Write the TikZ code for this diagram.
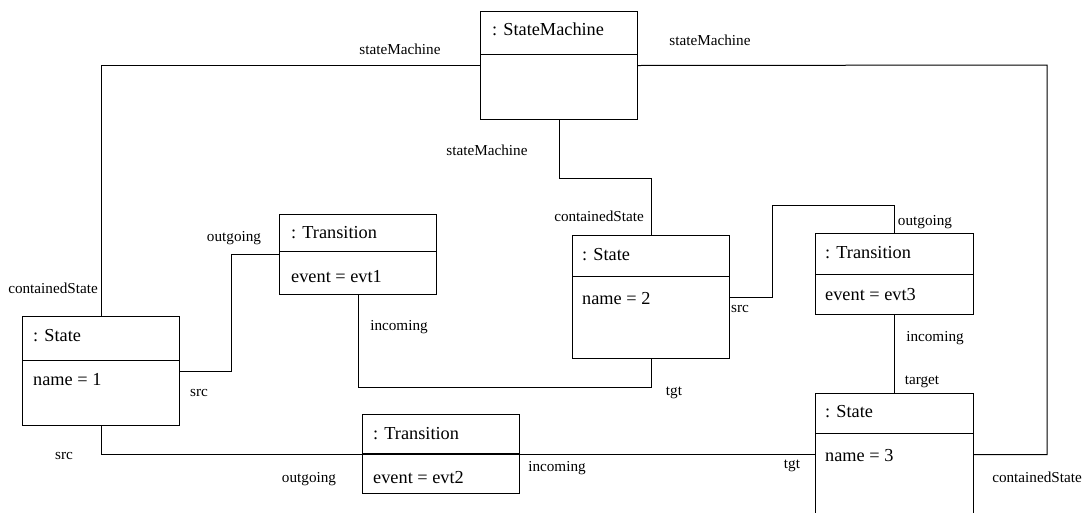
\documentclass[tikz,border=0pt]{standalone}
\usepackage{fontspec}
\setmainfont{Liberation Serif}
\begin{document}
\begin{tikzpicture}[x=1pt,y=-1pt,
  obj/.style={draw, line width=1pt, rectangle, inner sep=0pt, anchor=north west, fill=white},
  conn/.style={draw, line width=1pt},
  ttl/.style={anchor=base west, inner sep=0pt, font=\fontsize{18.3}{22}\selectfont},
  lbl/.style={anchor=base, inner sep=0pt, font=\fontsize{15.2}{18}\selectfont}]
\useasboundingbox (0,0) rectangle (1092,512);

\coordinate (r1) at (1047,65);
\coordinate (c2) at (772,205);

% boxes
\node[obj, minimum width=157pt, minimum height=108pt] (sm) at (480,11) {};
\node[obj, minimum width=157pt, minimum height=80pt] (t1) at (279,214) {};
\node[obj, minimum width=157pt, minimum height=109pt] (s1) at (22,316) {};
\node[obj, minimum width=157pt, minimum height=123pt] (s2) at (572,235) {};
\node[obj, minimum width=158pt, minimum height=81pt] (t3) at (815,233) {};
\node[obj, minimum width=158pt, minimum height=122pt] (s3) at (815,393) {};
\node[obj, minimum width=157pt, minimum height=79pt] (t2) at (362,414) {};

% connectors
\draw[conn] (s1.north) |- (sm.west);
\draw[conn] (s3.east) -| (r1) -- (sm.east);
\draw[conn] (sm.south) -- ++(0,58) -| (s2.north);
\draw[conn] (s1.east) -- ++(51,0) |- (t1.west);
\draw[conn] (t1.south) -- ++(0,92) -| (s2.south);
\draw[conn] (s2.east) -| (c2) -| (t3.north);
\draw[conn] (t3.south) -- (s3.north);
\draw[conn] (s1.south) |- (s3.west);

% dividers
\draw[conn] (sm.west |- 0,54) -- (sm.east |- 0,54);
\draw[conn] (t1.west |- 0,251) -- (t1.east |- 0,251);
\draw[conn] (s1.west |- 0,360) -- (s1.east |- 0,360);
\draw[conn] (s2.west |- 0,276) -- (s2.east |- 0,276);
\draw[conn] (t3.west |- 0,274) -- (t3.east |- 0,274);
\draw[conn] (s3.west |- 0,433) -- (s3.east |- 0,433);
\draw[conn] (t2.west |- 0,453) -- (t2.east |- 0,453);

% box texts
\node[ttl] (sm-n) at (492,35) {: StateMachine};
\node[ttl] (t1-n) at (291,238) {: Transition};
\node[ttl] (t1-a) at (291,282) {event = evt1};
\node[ttl] (s1-n) at (33,341) {: State};
\node[ttl] (s1-a) at (33,385) {name = 1};
\node[ttl] (s2-n) at (582,260) {: State};
\node[ttl] (s2-a) at (582,304) {name = 2};
\node[ttl] (t3-n) at (825,258) {: Transition};
\node[ttl] (t3-a) at (825,300) {event = evt3};
\node[ttl] (s3-n) at (825,417) {: State};
\node[ttl] (s3-a) at (825,461) {name = 3};
\node[ttl] (t2-n) at (373,439) {: Transition};
\node[ttl] (t2-a) at (373,483) {event = evt2};

% role labels
\node[lbl] (l1) at (400,54) {stateMachine};
\node[lbl] (l2) at (710,45) {stateMachine};
\node[lbl] (l3) at (487,155) {stateMachine};
\node[lbl] (l4) at (53,293) {containedState};
\node[lbl] (l5) at (234,241) {outgoing};
\node[lbl] (l6) at (199,396) {src};
\node[lbl] (l7) at (64,459) {src};
\node[lbl] (l8) at (399,330) {incoming};
\node[lbl] (l9) at (309,482) {outgoing};
\node[lbl] (l10) at (557,471) {incoming};
\node[lbl] (l11) at (674,395) {tgt};
\node[lbl] (l12) at (599,221) {containedState};
\node[lbl] (l13) at (740,312) {src};
\node[lbl] (l14) at (925,225) {outgoing};
\node[lbl] (l15) at (935,341) {incoming};
\node[lbl] (l16) at (922,384) {target};
\node[lbl] (l17) at (792,468) {tgt};
\node[lbl] (l18) at (1037,482) {containedState};
\end{tikzpicture}
\end{document}
